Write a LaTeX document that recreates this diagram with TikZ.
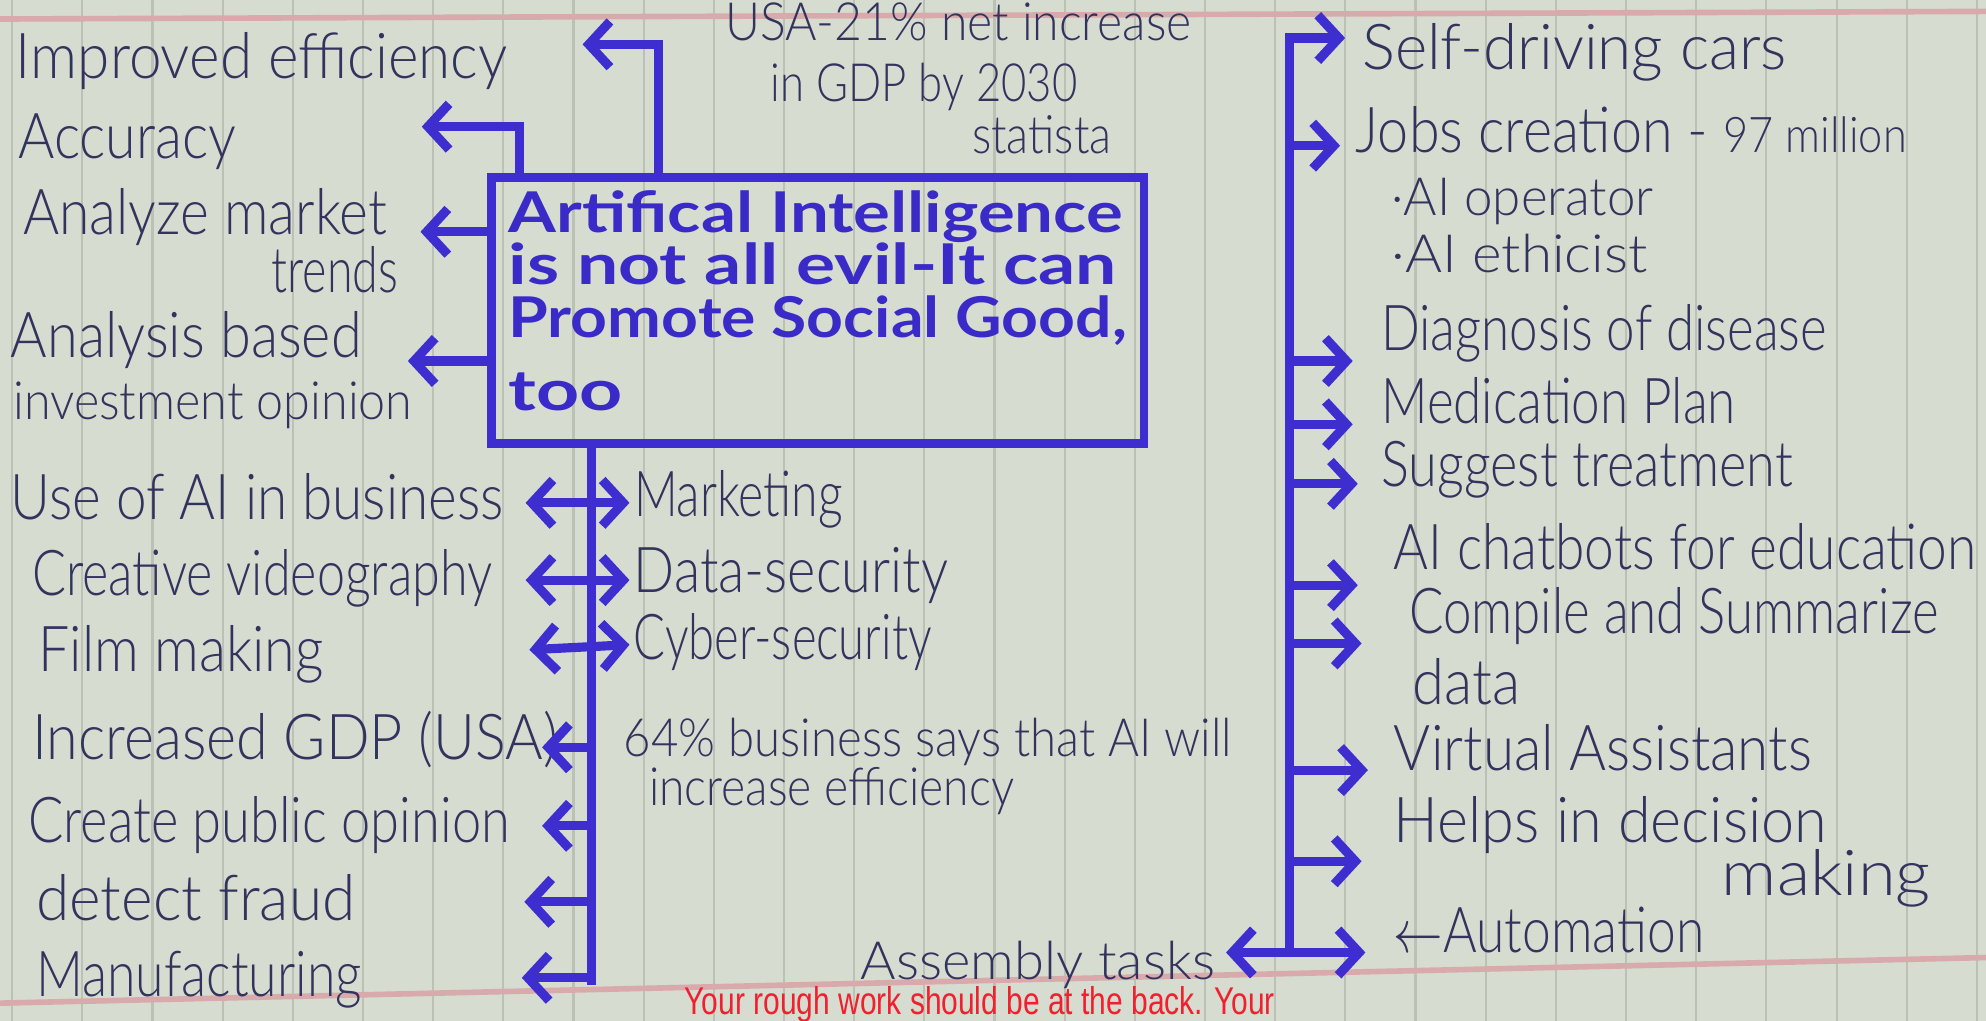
\documentclass[tikz,border=0pt]{standalone}
\usepackage{fontspec}
\setmainfont{Lato}
\IfFontExistsTF{Lato Light}{\newfontfamily\handfont{Lato Light}}{\newfontfamily\handfont{Lato}}
\newfontfamily\redfont{Liberation Sans}
\usetikzlibrary{arrows.meta,fit}
\definecolor{paper}{HTML}{D7DCD0}
\definecolor{ruleline}{HTML}{BCC1B6}
\definecolor{pinkline}{HTML}{D9AAAB}
\definecolor{marker}{HTML}{3E2ED0}
\definecolor{ink}{HTML}{33345E}
\definecolor{boxink}{HTML}{3A2BC8}
\definecolor{redtxt}{HTML}{F0202E}
\newcommand\hw[2]{\resizebox{\dimexpr 0.012666cm*#1\relax}{\height}{#2}}
\begin{document}
\begin{tikzpicture}[x=0.012666cm,y=-0.012666cm,
  hand/.style={anchor=base west, inner sep=0pt, text=ink, font=\handfont\fontsize{18}{20}\selectfont},
  handr/.style={hand, anchor=base east},
  smallhand/.style={hand, font=\handfont\fontsize{15}{17}\selectfont},
  conn/.style={draw=marker, line width=2.6pt, -{Straight Barb[length=6pt,width=13pt]}},
  conn2/.style={draw=marker, line width=2.6pt, {Straight Barb[length=6pt,width=13pt]}-{Straight Barb[length=6pt,width=13pt]}},
  stemline/.style={draw=marker, line width=2.6pt},
  boxst/.style={draw=marker, line width=2.4pt, inner sep=0pt},
  boxtxt/.style={anchor=north west, inner sep=0pt, text=boxink,
    font=\bfseries\fontsize{16}{15}\selectfont},
  rulest/.style={draw=ruleline, line width=0.6pt},
  pinkst/.style={draw=pinkline, line width=1.6pt},
]
% paper
\fill[paper] (0,0) rectangle (1568,806);
\useasboundingbox (0,0) rectangle (1568,806);
\foreach \k in {-1,...,27} \draw[rulest] ({65+55.4*\k},0) -- ({65+55.4*\k},806);
\draw[pinkst] (0,15) -- (1568,9);
\draw[pinkst] (0,792) -- (1568,756);

% central box
\coordinate (bnw) at (388,140);
\coordinate (bse) at (903,350);
\node[boxst, fit=(bnw)(bse)] (box) {};
\node[boxtxt] (bxt) at (401,150) {\vbox{\baselineskip=14.9pt\lineskiplimit=-100pt
  \hbox{\hw{485}{Artifical Intelligence}}
  \hbox{\hw{480}{is not all evil-It can}}
  \hbox{\hw{488}{Promote Social Good,}}
  \vskip6pt
  \hbox{\hw{90}{too}}}};

% left texts
\node[hand] (t1) at (12,62) {\hw{388}{Improved efficiency}};
\node[hand] (t2) at (14,125) {\hw{172}{Accuracy}};
\node[hand] (t3) at (18,185) {\hw{287}{Analyze market}};
\node[handr] (t3b) at (315,231) {\hw{100}{trends}};
\node[hand] (t4) at (8,282) {\hw{277}{Analysis based}};
\node[smallhand] (t4b) at (10,331) {\hw{315}{investment opinion}};
\node[hand] (t5) at (8,410) {\hw{389}{Use of AI in business}};
\node[hand] (t6) at (25,470) {\hw{363}{Creative videography}};
\node[hand] (t7) at (30,530) {\hw{225}{Film making}};
\node[hand] (t8) at (25,600) {\hw{415}{Increased GDP (USA)}};
\node[hand] (t9) at (22,665) {\hw{380}{Create public opinion}};
\node[hand] (t10) at (28,727) {\hw{252}{detect fraud}};
\node[hand] (t11) at (28,787) {\hw{257}{Manufacturing}};

% centre texts
\node[smallhand] (u1) at (572,32) {\hw{368}{USA-21\% net increase}};
\node[smallhand] (u2) at (608,80) {\hw{242}{in GDP by 2030}};
\node[smallhand, anchor=base east] (u3) at (878,121) {\hw{110}{statista}};
\node[hand] (m1) at (500,408) {\hw{165}{Marketing}};
\node[hand] (m2) at (500,468) {\hw{248}{Data-security}};
\node[hand] (m3) at (500,521) {\hw{235}{Cyber-security}};
\node[smallhand] (s1) at (492,597) {\hw{480}{64\% business says that AI will}};
\node[smallhand] (s2) at (512,636) {\hw{288}{increase efficiency}};
\node[smallhand, anchor=base east] (a1) at (960,773) {\hw{280}{Assembly tasks}};

% right texts
\node[hand] (r1) at (1075,55) {\hw{335}{Self-driving cars}};
\node[hand] (r2) at (1070,120) {\hw{435}{Jobs creation - {\fontsize{14}{16}\selectfont 97 million}}};
\node[smallhand] (r2a) at (1098,170) {\hw{207}{·AI operator}};
\node[smallhand] (r2b) at (1098,215) {\hw{202}{·AI ethicist}};
\node[hand] (r3) at (1090,277) {\hw{352}{Diagnosis of disease}};
\node[hand] (r4) at (1090,334) {\hw{280}{Medication Plan}};
\node[hand] (r5) at (1090,384) {\hw{325}{Suggest treatment}};
\node[hand] (r6) at (1100,450) {\hw{460}{AI chatbots for education}};
\node[hand] (r7) at (1112,500) {\hw{418}{Compile and Summarize}};
\node[hand] (r7b) at (1115,556) {\hw{85}{data}};
\node[hand] (r8) at (1100,608) {\hw{330}{Virtual Assistants}};
\node[hand] (r9) at (1100,665) {\hw{342}{Helps in decision}};
\node[handr] (r9b) at (1525,707) {\hw{165}{making}};
\node[hand] (r10) at (1100,752) {\hw{245}{$\leftarrow$Automation}};

% red footer
\node[anchor=base west, inner sep=0pt, text=redtxt, font=\redfont\fontsize{11}{13}\selectfont] (foot) at (540,801) {\hw{466}{Your rough work should be at the back. Your}};

% left connectors from the box
\coordinate (k1) at (520,35);
\coordinate (k1e) at (460,35);
\draw[conn] (box.north -| k1) |- (k1e);
\coordinate (k2) at (410,100);
\coordinate (k2e) at (333,100);
\draw[conn] (box.north -| k2) |- (k2e);
\coordinate (k3e) at (332,183);
\draw[conn] (box.west |- k3e) -- (k3e);
\coordinate (k4e) at (322,285);
\draw[conn] (box.west |- k4e) -- (k4e);

% lower stem
\coordinate (sb) at (467,778);
\draw[stemline] (box.south -| sb) -- (sb);
\coordinate (d1l) at (415,397); \coordinate (d1r) at (497,397);
\draw[conn2] (d1l) -- (d1r);
\coordinate (d2l) at (415,458); \coordinate (d2r) at (497,458);
\draw[conn2] (d2l) -- (d2r);
\coordinate (d3l) at (418,513); \coordinate (d3r) at (497,509);
\draw[conn2] (d3l) -- (d3r);
\coordinate (e1) at (428,590);
\draw[conn] (e1 -| sb) -- (e1);
\coordinate (e2) at (428,652);
\draw[conn] (e2 -| sb) -- (e2);
\coordinate (e3) at (414,712);
\draw[conn] (e3 -| sb) -- (e3);
\coordinate (e4) at (412,772);
\draw[conn] (e4 -| sb) -- (e4);

% right stem
\coordinate (rt) at (1018,30);
\coordinate (rb) at (1018,752);
\coordinate (re0) at (1062,30);
\draw[conn] (rb) -- (rt) -- (re0);
\foreach \n/\yy/\xx in {1/115/1058, 2/285/1068, 3/335/1068, 4/382/1072, 5/462/1072, 6/508/1075, 7/608/1080, 8/680/1075}{
  \coordinate (re\n) at (\xx,\yy);
  \draw[conn] (re\n -| rt) -- (re\n);
}
\coordinate (bl) at (968,752);
\coordinate (br) at (1078,752);
\draw[conn2] (bl) -- (br);
\end{tikzpicture}
\end{document}
